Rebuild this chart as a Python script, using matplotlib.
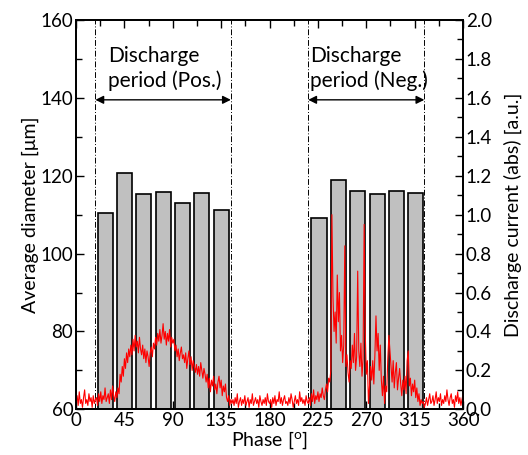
import numpy as np
import matplotlib
matplotlib.use('Agg')
import matplotlib.pyplot as plt
from matplotlib.ticker import MultipleLocator

plt.rcParams['font.family'] = ['Lato', 'DejaVu Sans']
plt.rcParams['mathtext.fontset'] = 'custom'
plt.rcParams['mathtext.rm'] = 'Lato'

# bar data (average diameter, um)
pos_phase = [27, 45, 63, 81, 99, 117, 135]
pos_diam = [110.5, 120.8, 115.3, 115.9, 113.1, 115.6, 111.3]
neg_phase = [226, 244, 262, 280, 298, 316]
neg_diam = [109.1, 118.8, 116.1, 115.4, 116.1, 115.5]

# discharge period borders
period_pos = [18, 144]
period_neg = [216, 324]

# discharge current (abs) [a.u.], 1 deg steps from 0 to 360
current = [
    0.04, 0.07, 0.02, 0.09, 0.03, 0.05, 0.01, 0.06, 0.10, 0.03, 0.05, 0.02, 0.08, 0.04, 0.06, 0.01, 0.07, 0.03, 0.05,
    0.06, 0.02, 0.08, 0.04, 0.09, 0.03, 0.07, 0.05, 0.11, 0.04, 0.06, 0.08, 0.03, 0.10, 0.05, 0.12, 0.07, 0.04, 0.09, 0.06, 0.11, 0.08,
    0.18, 0.14, 0.22, 0.17, 0.26, 0.21, 0.29, 0.24, 0.31, 0.27,
    0.33, 0.28, 0.36, 0.30, 0.38, 0.32, 0.35, 0.29, 0.37, 0.31,
    0.28, 0.33, 0.26, 0.31, 0.24, 0.30, 0.27, 0.22, 0.29, 0.32, 0.27, 0.34,
    0.31, 0.37, 0.33, 0.39, 0.35, 0.41, 0.34, 0.38, 0.44, 0.36, 0.40, 0.33, 0.39, 0.35, 0.41, 0.32, 0.37, 0.34, 0.36,
    0.30, 0.33, 0.27, 0.31, 0.25, 0.29, 0.32, 0.26, 0.28,
    0.24, 0.29, 0.21, 0.26, 0.30, 0.23, 0.27, 0.20, 0.25, 0.22,
    0.19, 0.23, 0.18, 0.22, 0.17, 0.24, 0.20, 0.16, 0.21, 0.18,
    0.14, 0.18, 0.11, 0.16, 0.09, 0.15, 0.12, 0.17, 0.10, 0.13,
    0.08, 0.14, 0.17, 0.11, 0.15, 0.07, 0.12, 0.09, 0.13, 0.06,
    0.04, 0.07, 0.02, 0.05, 0.03,
    0.05, 0.02, 0.06, 0.03, 0.08, 0.01, 0.04, 0.06, 0.02, 0.05,
    0.03, 0.07, 0.02, 0.04, 0.06, 0.01, 0.05, 0.03, 0.08, 0.02,
    0.04, 0.06, 0.03, 0.05, 0.01, 0.07, 0.04, 0.02, 0.05, 0.03,
    0.06, 0.02, 0.08, 0.04, 0.03, 0.05, 0.01, 0.06, 0.03, 0.07,
    0.02, 0.05, 0.04, 0.09, 0.03, 0.06, 0.02, 0.05, 0.07, 0.03,
    0.04, 0.02, 0.06, 0.03, 0.08, 0.05, 0.01, 0.04, 0.07, 0.03,
    0.05, 0.02, 0.09, 0.04, 0.06, 0.03, 0.05, 0.02, 0.07, 0.04,
    0.03, 0.06, 0.02, 0.08, 0.04, 0.10, 0.03, 0.07, 0.05, 0.09,
    0.04, 0.08, 0.06, 0.11, 0.07, 0.05, 0.10, 0.13, 0.09, 0.16, 0.14, 0.20,
    1.00,
    0.58, 0.40, 0.50, 0.34, 0.69, 0.45, 0.60, 0.30, 0.38, 0.24, 0.33, 0.84,
    0.22, 0.28, 0.19, 0.14, 0.25, 0.21, 0.33, 0.24, 0.39, 0.20, 0.27,
    0.71,
    0.30, 0.22, 0.34, 0.17, 0.26,
    0.95,
    0.40, 0.18, 0.25, 0.03, 0.12, 0.22, 0.15, 0.25, 0.13,
    0.28, 0.48, 0.30, 0.39, 0.20, 0.33,
    0.15, 0.07, 0.17, 0.03, 0.12, 0.09,
    0.26, 0.38, 0.30, 0.22, 0.14, 0.25, 0.11, 0.19, 0.24, 0.10, 0.16, 0.21, 0.13,
    0.07, 0.15, 0.10, 0.17, 0.08, 0.25, 0.30, 0.12, 0.16, 0.07, 0.13, 0.09, 0.15,
    0.06, 0.11, 0.04, 0.08, 0.02, 0.05, 0.03, 0.04, 0.01,
    0.03, 0.06, 0.02, 0.05, 0.08, 0.03, 0.04, 0.07, 0.02, 0.05, 0.09, 0.03, 0.06, 0.04, 0.08, 0.02, 0.05, 0.03,
    0.07, 0.04, 0.10, 0.05, 0.02, 0.06, 0.08, 0.03, 0.05, 0.01, 0.07, 0.04, 0.09, 0.03, 0.06, 0.02, 0.05, 0.08,
]
phase = np.linspace(0, 360, len(current))

fig = plt.figure(figsize=(5.28, 4.55), dpi=100)
ax = fig.add_axes([0.144, 0.1004, 0.733, 0.8556])

ax.bar(pos_phase, pos_diam, width=14, color='#c0c0c0', edgecolor='black', linewidth=1.2, zorder=2)
ax.bar(neg_phase, neg_diam, width=14, color='#c0c0c0', edgecolor='black', linewidth=1.2, zorder=2)

for xv in period_pos + period_neg:
    ax.axvline(xv, color='black', linestyle=(0, (6, 2, 1, 2)), linewidth=0.7, zorder=3)

for p in (period_pos, period_neg):
    ax.annotate('', xy=(p[0], 139.5), xytext=(p[1], 139.5),
                arrowprops=dict(arrowstyle='<|-|>', color='black', lw=1.0,
                                mutation_scale=12, shrinkA=0, shrinkB=0), zorder=4)

ax.text(30, 141.8, 'Discharge\nperiod (Pos.)', fontsize=15, ha='left', va='bottom', linespacing=1.25)
ax.text(217.5, 141.8, 'Discharge\nperiod (Neg.)', fontsize=15, ha='left', va='bottom', linespacing=1.25)

ax.set_xlim(0, 360)
ax.set_ylim(60, 160)
ax.xaxis.set_major_locator(MultipleLocator(45))
ax.xaxis.set_minor_locator(MultipleLocator(22.5))
ax.yaxis.set_major_locator(MultipleLocator(20))
ax.yaxis.set_minor_locator(MultipleLocator(10))
ax.tick_params(which='both', direction='in', top=True, right=False, labelsize=13.5, width=1.0)
ax.tick_params(which='major', length=6, pad=2)
ax.tick_params(which='minor', length=4)
ax.set_xlabel('Phase [$\\mathregular{^o}$]', fontsize=14, labelpad=0)
ax.set_ylabel('Average diameter [\u03bcm]', fontsize=14, labelpad=1)
for s in ax.spines.values():
    s.set_linewidth(1.3)

ax2 = ax.twinx()
ax2.plot(phase, current, color='red', linewidth=0.8)
ax2.set_ylim(0, 2.0)
ax2.yaxis.set_major_locator(MultipleLocator(0.2))
ax2.yaxis.set_minor_locator(MultipleLocator(0.1))
ax2.yaxis.set_major_formatter(matplotlib.ticker.FormatStrFormatter('%.1f'))
ax2.tick_params(which='both', direction='in', labelsize=13.5, width=1.0)
ax2.tick_params(which='major', length=6, pad=2)
ax2.tick_params(which='minor', length=4)
ax2.set_ylabel('Discharge current (abs) [a.u.]', fontsize=14, labelpad=8)
for s in ax2.spines.values():
    s.set_linewidth(1.3)

fig.savefig('out.png', dpi=100)
